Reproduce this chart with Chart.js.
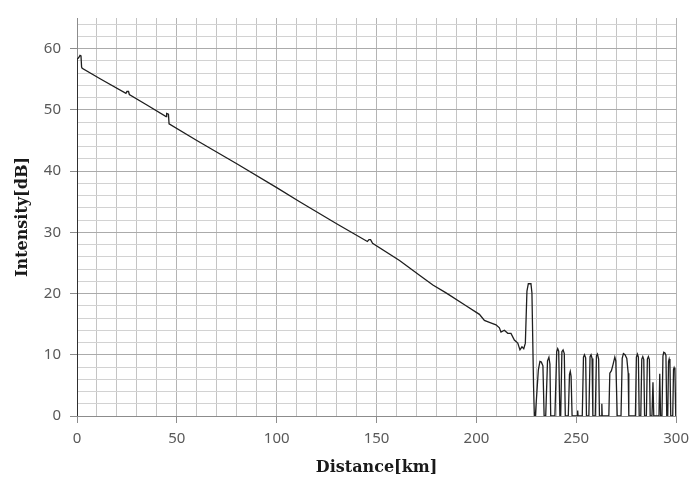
<!DOCTYPE html>
<html>
<head>
<meta charset="utf-8">
<script src="https://cdn.jsdelivr.net/npm/chart.js@4/dist/chart.umd.min.js"></script>
<style>
  html, body { margin: 0; padding: 0; background: #fff; }
  canvas { display: block; }
</style>
</head>
<body>
<canvas id="otdrChart" width="696" height="481"></canvas>
<script>
// OTDR trace: distance [km] and intensity [dB]
const distanceKm = [
  0, 0.1, 0.8, 1.5, 2.0, 2.3, 2.6, 12, 24.5, 25.0, 25.8, 26.2, 35, 44.6, 44.9, 45.8, 46.1,
  60, 80, 100, 111.5, 130, 145.4, 146.2, 147, 148, 161.5, 171.5, 178.2, 184.8, 194.8,
  201.5, 204, 206.5, 209.8, 211.5, 212.3, 214, 215.7, 217.3, 219, 220.7, 221.8, 222.8,
  223.7, 224.5, 225.3, 226, 227.3, 227.8, 228.6, 229,
  // noise floor pulses
  229.5, 231.0, 231.8, 232.5, 233.3, 233.9,
  234.7, 235.6, 236.3, 236.8, 237.2,
  239.3, 240.2, 240.7, 241.2, 241.8,
  242.2, 242.8, 243.4, 244.0, 244.5,
  246.0, 246.6, 247.0, 247.4, 247.9,
  250.5, 250.7, 250.9,
  253.0, 253.6, 254.1, 254.7, 255.1,
  256.3, 256.9, 257.4, 257.9, 258.3,
  259.5, 260.1, 260.6, 261.2, 261.6,
  262.6, 262.8, 263.0,
  266.3, 266.8, 267.6, 268.4, 269.3, 269.8, 270.5,
  272.4, 273.0, 273.6, 274.4, 275.3, 276.0, 276.3,
  279.6, 280.1, 280.6, 281.1, 281.5,
  282.3, 282.8, 283.3, 283.8, 284.2,
  285.1, 285.6, 286.1, 286.6, 287.0,
  287.9, 288.4, 288.8,
  291.4, 291.8, 292.2,
  292.9, 293.4, 293.8, 294.4, 294.9, 295.3,
  295.8, 296.2, 296.5, 296.9, 297.3,
  298.3, 298.7, 299.0, 299.4, 299.8, 300
];
const intensityDb = [
  0, 58.3, 58.5, 58.9, 58.8, 57.0, 56.8, 55.0, 52.7, 53.0, 53.0, 52.5, 50.8, 48.9, 49.4, 49.3, 47.7,
  45.0, 41.2, 37.3, 35.0, 31.4, 28.5, 28.8, 28.8, 28.2, 25.4, 23.0, 21.4, 20.1, 18.0,
  16.6, 15.6, 15.3, 14.9, 14.4, 13.7, 14.0, 13.5, 13.5, 12.4, 11.9, 10.8, 11.3,
  11.0, 11.9, 20.4, 21.6, 21.6, 20.1, 5.0, 0,
  0, 7.5, 8.9, 8.8, 8.2, 0,
  0, 9.0, 9.6, 8.5, 0,
  0, 10.5, 11.0, 10.6, 0,
  0, 10.5, 10.8, 10.2, 0,
  0, 6.8, 7.3, 6.5, 0,
  0, 0.9, 0,
  0, 9.6, 10.0, 9.5, 0,
  0, 9.7, 10.0, 9.4, 0,
  0, 9.8, 10.1, 9.3, 0,
  0, 2.0, 0,
  0, 7.0, 7.4, 8.4, 9.6, 9.0, 0,
  0, 9.4, 10.2, 10.0, 9.4, 7.0, 0,
  0, 9.6, 10.1, 9.6, 0,
  0, 9.3, 9.7, 9.2, 0,
  0, 9.3, 9.7, 9.2, 0,
  0, 5.5, 0,
  0, 6.9, 0,
  0, 9.8, 10.4, 10.3, 9.9, 0,
  0, 8.9, 9.3, 8.6, 0,
  0, 7.6, 7.9, 7.5, 0, 0
];

// axis ticks (grid every 10 km / 2 dB, labels every 50 km / 10 dB)
const xTickValues = [];
for (let v = 0; v <= 300; v += 10) xTickValues.push(v);
const yTickValues = [];
for (let v = 0; v <= 64; v += 2) yTickValues.push(v);

const points = distanceKm.map((d, i) => ({ x: d, y: intensityDb[i] }));

const tickFont = { family: '"Noto Sans", sans-serif', size: 15 };
const titleFont = { family: '"DejaVu Serif", serif', size: 16, weight: 'bold' };

new Chart(document.getElementById('otdrChart').getContext('2d'), {
  type: 'line',
  data: {
    datasets: [{
      data: points,
      borderColor: '#1f1f1f',
      borderWidth: 1.3,
      pointRadius: 0,
      tension: 0,
      fill: false
    }]
  },
  options: {
    responsive: false,
    animation: false,
    layout: { padding: { top: 9, right: 19, left: 0, bottom: 0 } },
    plugins: { legend: { display: false }, tooltip: { enabled: false } },
    scales: {
      x: {
        type: 'linear',
        min: 0,
        max: 300,
        afterBuildTicks: s => { s.ticks = xTickValues.map(v => ({ value: v })); },
        afterFit: s => { s.height = 65; },
        ticks: {
          autoSkip: false,
          maxRotation: 0,
          padding: 7,
          color: '#595959',
          font: tickFont,
          callback: v => (v % 50 === 0 ? String(v) : '')
        },
        grid: {
          color: c => (c.tick && c.tick.value % 50 === 0 ? '#b4b4b4' : '#c4c4c4'),
          tickColor: c => (c.tick && c.tick.value % 50 === 0 ? '#8c8c8c' : 'rgba(0,0,0,0)'),
          tickLength: 7
        },
        border: { color: '#8c8c8c' },
        title: {
          display: true,
          text: 'Distance[km]',
          color: '#1a1a1a',
          font: titleFont,
          padding: { top: 0, bottom: 4 }
        }
      },
      y: {
        min: 0,
        max: 65,
        afterBuildTicks: s => { s.ticks = yTickValues.map(v => ({ value: v })); },
        afterFit: s => { s.width = 77; },
        ticks: {
          autoSkip: false,
          padding: 9,
          color: '#595959',
          font: tickFont,
          callback: v => (v % 10 === 0 ? String(v) : '')
        },
        grid: {
          color: c => (c.tick && c.tick.value % 10 === 0 ? '#ababab' : '#d2d2d2'),
          tickColor: c => (c.tick && c.tick.value % 10 === 0 ? '#8c8c8c' : 'rgba(0,0,0,0)'),
          tickLength: 7
        },
        border: { color: '#8c8c8c' },
        title: {
          display: true,
          text: 'Intensity[dB]',
          color: '#1a1a1a',
          font: titleFont,
          padding: { top: 13, bottom: 0 }
        }
      }
    }
  }
});
</script>
</body>
</html>
